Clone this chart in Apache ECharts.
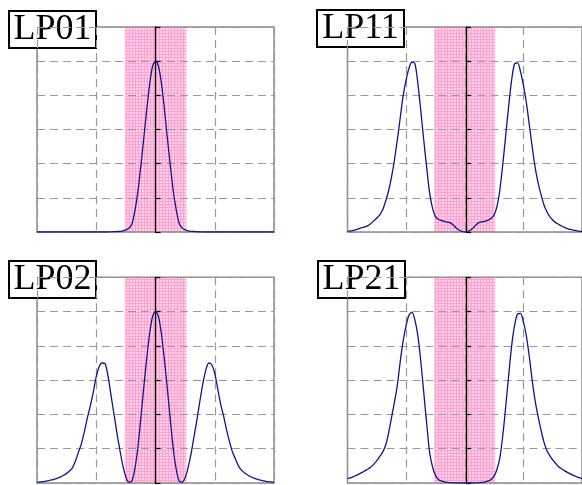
<!DOCTYPE html>
<html>
<head>
<meta charset="utf-8">
<script src="https://cdn.jsdelivr.net/npm/echarts@6/dist/echarts.min.js"></script>
<style>
  html, body { margin: 0; padding: 0; background: #fff; }
  #main { width: 582px; height: 485px; }
</style>
</head>
<body>
<div id="main"></div>
<script>
// 横坐标 -2 .. 2, 步长 0.05
var xs = [-2.00,-1.95,-1.90,-1.85,-1.80,-1.75,-1.70,-1.65,-1.60,-1.55,-1.50,-1.45,-1.40,-1.35,-1.30,-1.25,-1.20,-1.15,-1.10,-1.05,
  -1.00,-0.95,-0.90,-0.85,-0.80,-0.75,-0.70,-0.65,-0.60,-0.55,-0.50,-0.45,-0.40,-0.35,-0.30,-0.25,-0.20,-0.15,-0.10,-0.05,
  0.00,
  0.05,0.10,0.15,0.20,0.25,0.30,0.35,0.40,0.45,0.50,0.55,0.60,0.65,0.70,0.75,0.80,0.85,0.90,0.95,1.00,
  1.05,1.10,1.15,1.20,1.25,1.30,1.35,1.40,1.45,1.50,1.55,1.60,1.65,1.70,1.75,1.80,1.85,1.90,1.95,2.00];

var lp01 = [0,0,0,0,0,0,0,0,0,0,0,0,0,0,0,0,0,0,0,0,
  0,0,0,0,0,0.001,0.002,0.003,0.004,0.006,0.012,0.022,0.045,0.12,0.23,0.38,0.54,0.71,0.86,0.97,
  1.0,
  0.97,0.87,0.72,0.55,0.39,0.24,0.13,0.05,0.024,0.012,0.006,0.004,0.003,0.002,0.001,0,0,0,0,0,
  0,0,0,0,0,0,0,0,0,0,0,0,0,0,0,0,0,0,0,0];

var lp11 = [0.004,0.006,0.01,0.014,0.02,0.025,0.03,0.037,0.05,0.065,0.082,0.10,0.13,0.18,0.24,0.32,0.42,0.54,0.67,0.80,
  0.89,0.96,0.995,0.985,0.87,0.71,0.54,0.38,0.23,0.14,0.09,0.075,0.068,0.062,0.058,0.055,0.042,0.025,0.012,0.004,
  0.0,
  0.004,0.012,0.026,0.044,0.056,0.06,0.064,0.07,0.08,0.10,0.15,0.25,0.40,0.57,0.74,0.89,0.985,0.99,0.94,0.86,
  0.76,0.63,0.50,0.38,0.29,0.22,0.16,0.12,0.09,0.07,0.055,0.045,0.035,0.027,0.02,0.015,0.011,0.008,0.005,0.003];

var lp02 = [0.004,0.006,0.008,0.011,0.014,0.018,0.023,0.029,0.036,0.045,0.056,0.07,0.09,0.13,0.18,0.23,0.30,0.38,0.45,0.53,
  0.62,0.68,0.70,0.695,0.62,0.51,0.40,0.29,0.19,0.10,0.035,0.005,0.01,0.08,0.20,0.37,0.55,0.72,0.87,0.97,
  1.0,
  0.97,0.87,0.72,0.55,0.37,0.20,0.08,0.01,0.005,0.03,0.09,0.17,0.27,0.37,0.48,0.58,0.66,0.70,0.69,0.64,
  0.55,0.46,0.39,0.31,0.24,0.18,0.14,0.10,0.075,0.06,0.048,0.038,0.03,0.024,0.018,0.014,0.011,0.008,0.006,0.004];

var lp21 = [0.025,0.03,0.037,0.045,0.053,0.062,0.072,0.082,0.093,0.11,0.13,0.155,0.18,0.22,0.29,0.38,0.47,0.57,0.71,0.83,
  0.92,0.98,0.995,0.95,0.86,0.71,0.53,0.35,0.18,0.095,0.045,0.02,0.012,0.007,0.004,0.002,0.001,0,0,0,
  0,
  0,0,0,0.001,0.002,0.004,0.007,0.012,0.02,0.04,0.08,0.15,0.28,0.45,0.63,0.80,0.92,0.985,0.99,0.94,
  0.86,0.74,0.60,0.48,0.39,0.31,0.24,0.19,0.16,0.135,0.115,0.095,0.083,0.072,0.062,0.053,0.045,0.038,0.031,0.025];

var names = ['LP01', 'LP11', 'LP02', 'LP21'];
var curves = [lp01, lp11, lp02, lp21];
var coreHalf = 0.52;   // 粉色纤芯区域半宽

// 粉色网格纹理
var pat = document.createElement('canvas');
pat.width = 3; pat.height = 3;
var pc = pat.getContext('2d');
pc.fillStyle = '#ffd2e9';
pc.fillRect(0, 0, 3, 3);
pc.fillStyle = '#ffa2d0';
pc.fillRect(0, 0, 3, 1);
pc.fillRect(0, 0, 1, 3);

var plotW = 237;
var boxes = [
  { left: 37, top: 27, height: 205 },
  { left: 347.5, top: 27, height: 205 },
  { left: 37, top: 277.3, height: 205.7 },
  { left: 347.5, top: 277.3, height: 205.7 }
];
var labelPos = [[8, 10], [316, 9], [8, 260], [317, 260]];

var grids = [], xAxes = [], yAxes = [], series = [], graphics = [];
for (var i = 0; i < 4; i++) {
  grids.push({
    left: boxes[i].left, top: boxes[i].top, width: plotW, height: boxes[i].height,
    show: true, borderColor: '#8c8c8c', borderWidth: 1.5, backgroundColor: 'transparent'
  });
  xAxes.push({
    type: 'value', gridIndex: i, min: -2, max: 2, interval: 1,
    axisLine: { show: false }, axisTick: { show: false }, axisLabel: { show: false },
    splitLine: { show: true, lineStyle: { color: '#999', width: 1.2, type: [8, 5] } }
  });
  // 中心黑线: 把 y 轴移到图中间
  yAxes.push({
    type: 'value', gridIndex: i, min: 0, max: 1.2, interval: 0.2,
    position: 'left', offset: -plotW / 2,
    axisLine: { show: true, onZero: false, lineStyle: { color: '#000', width: 1.3 } },
    axisTick: { show: true, inside: true, length: 5, lineStyle: { color: '#000', width: 1.2 } },
    axisLabel: { show: false },
    splitLine: { show: true, lineStyle: { color: '#999', width: 1.2, type: [8, 5] } }
  });
  var pts = [];
  for (var k = 0; k < xs.length; k++) pts.push([xs[k], curves[i][k]]);
  series.push({
    type: 'line', xAxisIndex: i, yAxisIndex: i, data: [], z: -1, silent: true,
    markArea: {
      silent: true, z: -1,
      itemStyle: { color: { image: pat, repeat: 'repeat' } },
      data: [[{ coord: [-coreHalf, 0] }, { coord: [coreHalf, 1.2] }]]
    }
  });
  series.push({
    type: 'line', xAxisIndex: i, yAxisIndex: i, data: pts, smooth: 0.3,
    showSymbol: false, z: 3,
    lineStyle: { color: '#14148a', width: 1.3 }
  });
  graphics.push({
    type: 'group', left: labelPos[i][0], top: labelPos[i][1], z: 100,
    children: [
      { type: 'rect', shape: { x: 0, y: 0, width: 87, height: 37 },
        style: { fill: '#fff', stroke: '#000', lineWidth: 2 } },
      { type: 'text', x: 43.5, y: 19,
        style: { text: names[i], font: '36px "Liberation Serif", "DejaVu Serif", serif',
                 fill: '#000', align: 'center', verticalAlign: 'middle',
                 textAlign: 'center', textVerticalAlign: 'middle' } }
    ]
  });
}

var chart = echarts.init(document.getElementById('main'), null, { renderer: 'canvas' });
chart.setOption({
  animation: false,
  grid: grids,
  xAxis: xAxes,
  yAxis: yAxes,
  series: series,
  graphic: graphics
});
</script>
</body>
</html>
